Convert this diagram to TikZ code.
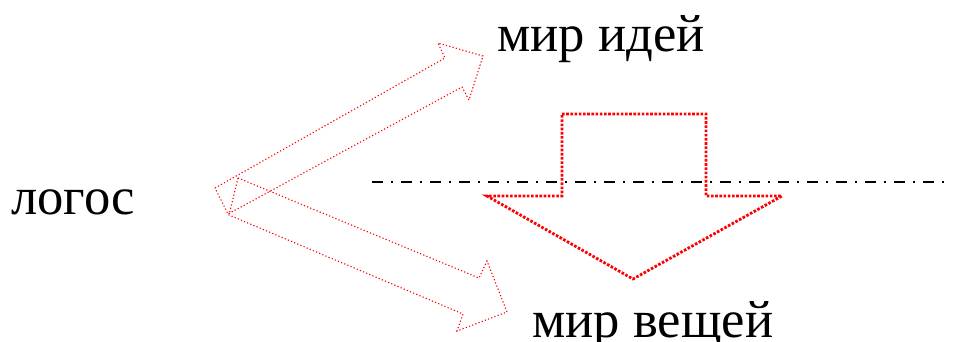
\documentclass[tikz,border=0pt]{standalone}
\usepackage{fontspec}
\setmainfont{Liberation Serif}
\usepackage{tikz}

\tikzset{
  thinarrow/.style={draw=red, line width=0.55pt, line join=miter,
    dash pattern=on 0.6pt off 1.1pt},
  fatarrow/.style={draw=red, line width=1.4pt, line join=miter,
    dash pattern=on 1.3pt off 0.8pt},
  axisline/.style={draw=black, line width=1.3pt,
    dash pattern=on 5.5pt off 4pt on 1pt off 4pt},
  word/.style={inner sep=0pt, anchor=base west,
    font=\fontsize{26.3}{31}\selectfont}
}

\begin{document}
\begin{tikzpicture}[x=0.5pt,y=-0.5pt]
  \useasboundingbox (0,0) rectangle (955,342);
  \node at (11,215)  (A) [word]{логос};
  \node at (497,52)  (B) [word]{мир идей};
  \node at (532,337) (C) [word]{мир вещей};
  % axis
  \draw[axisline] (372,182) -- (950,182);
  % arrow up to the ideas
  \draw[thinarrow] (215,188) -- (445,58) -- (438,43) -- (483,56)
    -- (469,100) -- (462,87) -- (228,214) -- cycle;
  % arrow down to the things
  \draw[thinarrow] (238,178) -- (479,278) -- (487,261) -- (507,312)
    -- (457,331) -- (463,314) -- (229,215) -- cycle;
  % big arrow across the line
  \draw[fatarrow] (562,114) -- (706,114) -- (706,196) -- (782,196)
    -- (633,279) -- (487,196) -- (562,196) -- cycle;
\end{tikzpicture}
\end{document}
